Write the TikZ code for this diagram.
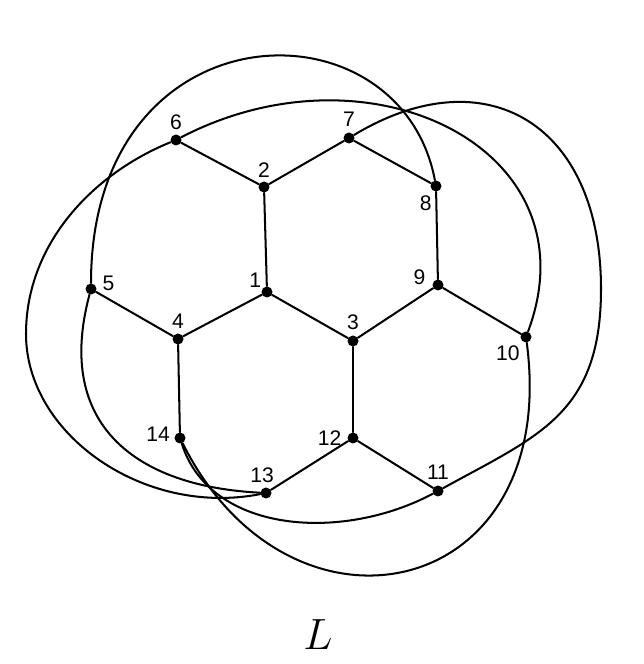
\documentclass[tikz,border=0pt]{standalone}
\usepackage{fontspec}
\setsansfont{Liberation Sans}
\usepackage{tikz}
\usetikzlibrary{positioning}
\tikzset{
	dot/.style = {circle, fill=black, inner sep=0pt, minimum size=2.2mm},
	lbl/.style = {inner sep=0pt, font=\sffamily\fontsize{12}{14}\selectfont},
	edge/.style = {draw, line width=1.15pt},
}

\begin{document}
\begin{tikzpicture}[
	line cap=round, line join=round
	]
	\useasboundingbox (0,0) rectangle (12.88,13.28);
	%Vertices
	\node[dot] (v1)  at (5.34,7.44)  {};
	\node[dot] (v2)  at (5.28,9.54)  {};
	\node[dot] (v3)  at (7.06,6.46)  {};
	\node[dot] (v4)  at (3.56,6.50)  {};
	\node[dot] (v5)  at (1.82,7.50)  {};
	\node[dot] (v6)  at (3.52,10.48) {};
	\node[dot] (v7)  at (6.98,10.52) {};
	\node[dot] (v8)  at (8.72,9.56)  {};
	\node[dot] (v9)  at (8.76,7.58)  {};
	\node[dot] (v10) at (10.52,6.54) {};
	\node[dot] (v11) at (8.76,3.46)  {};
	\node[dot] (v12) at (7.06,4.52)  {};
	\node[dot] (v13) at (5.32,3.42)  {};
	\node[dot] (v14) at (3.60,4.52)  {};
	\coordinate (east) at (12.02,7.50);
	\coordinate (west) at (0.52,6.60);
	%Labels
	\node[lbl, above left=0mm and 0.3mm of v1] (l1) {1};
	\node[lbl, above=0.7mm of v2]              (l2) {2};
	\node[lbl, above=1.1mm of v3]              (l3) {3};
	\node[lbl, above=0.8mm of v4]              (l4) {4};
	\node[lbl, right=1.1mm of v5, yshift=1.2mm] (l5) {5};
	\node[lbl, above=0.9mm of v6]              (l6) {6};
	\node[lbl, above=1mm of v7]                (l7) {7};
	\node[lbl, below left=1.1mm and 0mm of v8] (l8) {8};
	\node[lbl, left=1.3mm of v9, yshift=1.6mm] (l9) {9};
	\node[lbl, below left=0.8mm and 0.4mm of v10] (l10) {10};
	\node[lbl, above=1.1mm of v11]             (l11) {11};
	\node[lbl, left=1.1mm of v12]              (l12) {12};
	\node[lbl, above=0.9mm of v13, xshift=-0.8mm] (l13) {13};
	\node[lbl, left=0.8mm of v14, yshift=0.8mm] (l14) {14};
	\node (name) at (6.36,0.58) {\Huge $L$};
	%Hexagon edges
	\draw[edge] (v1) -- (v2);
	\draw[edge] (v1) -- (v3);
	\draw[edge] (v1) -- (v4);
	\draw[edge] (v2) -- (v6);
	\draw[edge] (v2) -- (v7);
	\draw[edge] (v3) -- (v9);
	\draw[edge] (v3) -- (v12);
	\draw[edge] (v4) -- (v5);
	\draw[edge] (v4) -- (v14);
	\draw[edge] (v7) -- (v8);
	\draw[edge] (v8) -- (v9);
	\draw[edge] (v9) -- (v10);
	\draw[edge] (v12) -- (v11);
	\draw[edge] (v12) -- (v13);
	%Curved edges
	\draw[edge] (v5) .. controls +(0,5.7) and +(-0.72,3.8) .. (v8);
	\draw[edge] (v6) .. controls +(3.9,2.03) and +(1.4,3.75) .. (v10);
	\draw[edge] (v7) .. controls +(2.74,1.65) and +(0,3.3) .. (east)
		.. controls +(0,-2.5) and +(2.01,1.11) .. (v11);
	\draw[edge] (v10) .. controls +(0.7,-5.3) and +(2.2,-4.4) .. (v14);
	\draw[edge] (v14) .. controls +(0.6,-1.9) and +(-1.94,-1.03) .. (v11);
	\draw[edge] (v6) .. controls +(-1.67,-0.68) and +(0,1.8) .. (west)
		.. controls +(0,-2) and +(-2.45,-0.48) .. (v13);
	\draw[edge] (v5) .. controls +(-0.73,-2.72) and +(-2.6,0.13) .. (v13);
\end{tikzpicture}
\end{document}
